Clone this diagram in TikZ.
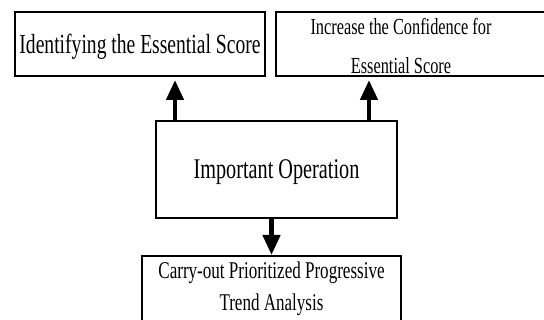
\documentclass[tikz,border=0pt]{standalone}
\usepackage{fontspec}
\setmainfont{Liberation Serif}
\newfontfamily\nf{Liberation Serif}[FakeStretch=0.71]
\usetikzlibrary{arrows.meta}
\tikzset{
  boxnode/.style={draw, line width=2pt, inner sep=0pt, rectangle},
  txt/.style={inner sep=0pt, align=center},
  arr/.style={line width=4.5pt, -{Triangle[width=17pt,length=20pt]}}
}
\begin{document}
\begin{tikzpicture}[x=1pt,y=1pt]
\useasboundingbox (0,0) rectangle (544,-320);
\clip (0,0) rectangle (544,-320);
% boxes
\node[boxnode, minimum width=250pt, minimum height=64pt, text depth=0pt,
  font=\nf\fontsize{27.6}{33}\selectfont] (b1) at (140,-44) {Identifying the Essential Score};
\node[boxnode, minimum width=270pt, minimum height=64pt] (b2) at (411,-44) {};
\node[txt, font=\nf\fontsize{23}{39}\selectfont] (b2t) at (401,-46.5) {Increase the Confidence for\\Essential Score};
\node[boxnode, minimum width=241pt, minimum height=97pt, text depth=0pt,
  font=\nf\fontsize{28.5}{34}\selectfont] (mid) at (276.5,-169.5) {Important Operation};
\node[boxnode, minimum width=259pt, minimum height=84pt] (bot) at (271.5,-298) {};
\node[txt, font=\nf\fontsize{24}{32}\selectfont] (bott) at (271.5,-288.4) {Carry-out Prioritized Progressive\\Trend Analysis};
% arrows
\coordinate (xl) at (175,0);
\coordinate (xr) at (369,0);
\draw[arr, shorten >=3pt] (mid.north -| xl) -- (b1.south -| xl);
\draw[arr, shorten >=3pt] (mid.north -| xr) -- (b2.south -| xr);
\draw[arr] (mid.south -| bot.north) -- (bot.north);
\end{tikzpicture}
\end{document}
